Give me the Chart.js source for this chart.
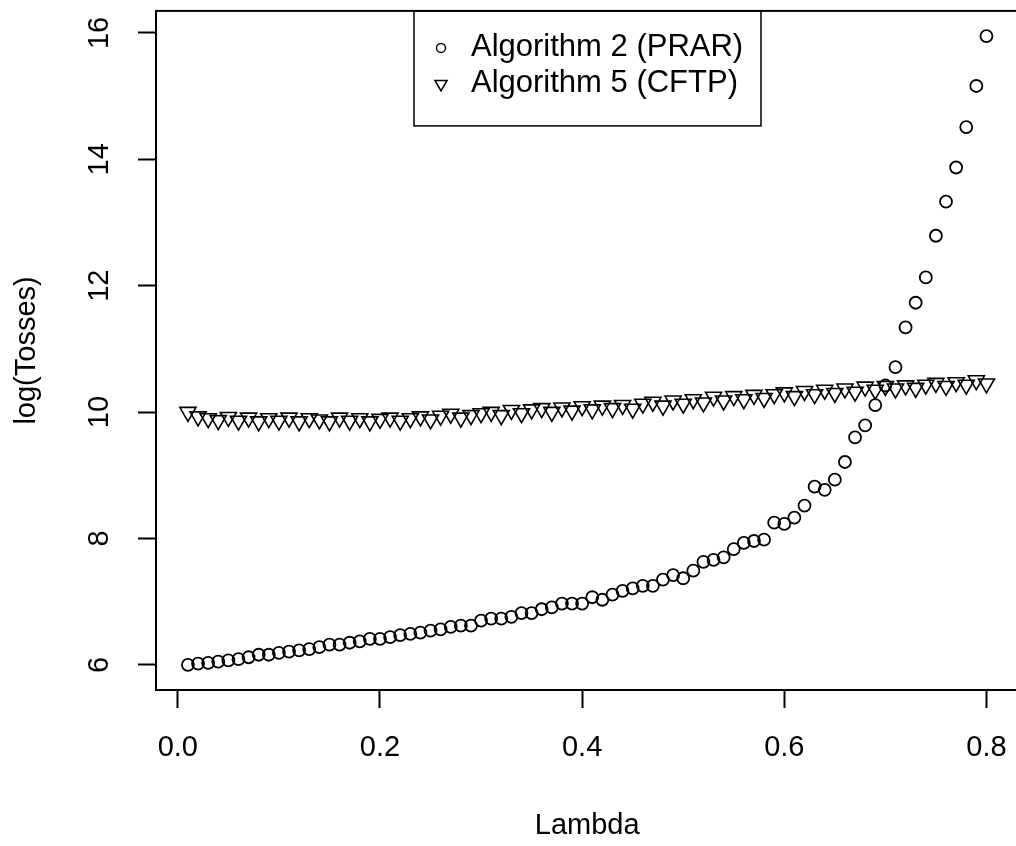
<!DOCTYPE html>
<html>
<head>
<meta charset="utf-8">
<script src="https://cdn.jsdelivr.net/npm/chart.js@4.4.1/dist/chart.umd.min.js"></script>
<style>
html,body{margin:0;padding:0;background:#fff;overflow:hidden}
#wrap{width:1030px;height:846px}
</style>
</head>
<body>
<div id="wrap"><canvas id="c" width="1030" height="846"></canvas></div>
<script>
// lambda values (x)
const lambdas=[0.01,0.02,0.03,0.04,0.05,0.06,0.07,0.08,0.09,0.10,
0.11,0.12,0.13,0.14,0.15,0.16,0.17,0.18,0.19,0.20,
0.21,0.22,0.23,0.24,0.25,0.26,0.27,0.28,0.29,0.30,
0.31,0.32,0.33,0.34,0.35,0.36,0.37,0.38,0.39,0.40,
0.41,0.42,0.43,0.44,0.45,0.46,0.47,0.48,0.49,0.50,
0.51,0.52,0.53,0.54,0.55,0.56,0.57,0.58,0.59,0.60,
0.61,0.62,0.63,0.64,0.65,0.66,0.67,0.68,0.69,0.70,
0.71,0.72,0.73,0.74,0.75,0.76,0.77,0.78,0.79,0.80];

// Algorithm 2 (PRAR), log(tosses)
const prar=[6.00,6.02,6.03,6.05,6.07,6.09,6.12,6.16,6.16,6.19,
6.21,6.23,6.25,6.28,6.32,6.32,6.35,6.37,6.41,6.41,
6.44,6.47,6.49,6.51,6.54,6.56,6.60,6.62,6.62,6.70,
6.73,6.73,6.76,6.82,6.82,6.88,6.91,6.97,6.97,6.97,
7.07,7.03,7.11,7.17,7.21,7.25,7.25,7.35,7.42,7.37,
7.49,7.63,7.66,7.70,7.83,7.93,7.96,7.98,8.25,8.23,
8.33,8.52,8.82,8.77,8.93,9.21,9.60,9.79,10.11,10.42,
10.71,11.34,11.73,12.13,12.79,13.33,13.87,14.51,15.16,15.95];

// Algorithm 5 (CFTP), log(tosses)
const cftp=[10.00,9.93,9.90,9.87,9.92,9.86,9.91,9.85,9.90,9.86,
9.91,9.85,9.90,9.88,9.85,9.91,9.86,9.90,9.85,9.89,
9.91,9.86,9.90,9.93,9.88,9.94,9.97,9.91,9.95,9.98,
10.00,9.95,10.03,9.98,10.04,10.06,10.00,10.07,10.02,10.09,
10.04,10.10,10.06,10.11,10.05,10.13,10.16,10.10,10.18,10.13,
10.20,10.15,10.24,10.18,10.25,10.20,10.27,10.22,10.28,10.31,
10.25,10.33,10.28,10.35,10.30,10.37,10.32,10.40,10.35,10.41,
10.37,10.42,10.38,10.43,10.46,10.41,10.47,10.43,10.50,10.45];

const xTicks=[0,0.2,0.4,0.6,0.8];
const yTicks=[6,8,10,12,14,16];
const seriesNames=['Algorithm 2 (PRAR)','Algorithm 5 (CFTP)'];

const FONT='"Liberation Sans", Arial, sans-serif';
const FS=29;   // axis text
const LFS=31;  // legend text

const pts=(ys)=>lambdas.map((x,i)=>({x:x,y:ys[i]}));

// box around plot, rotated y tick labels, legend
const rPlot={
  id:'rPlot',
  afterDraw(chart){
    const ctx=chart.ctx, a=chart.chartArea, ys=chart.scales.y;
    ctx.save();
    ctx.strokeStyle='#000';
    ctx.lineWidth=2;
    ctx.strokeRect(a.left,a.top,a.right-a.left,a.bottom-a.top);

    ctx.fillStyle='#000';
    ctx.font=FS+'px '+FONT;
    ctx.textAlign='center';
    ctx.textBaseline='middle';
    yTicks.forEach(v=>{
      const py=ys.getPixelForValue(v);
      ctx.save();
      ctx.translate(100,py);
      ctx.rotate(-Math.PI/2);
      ctx.fillText(String(v),0,0);
      ctx.restore();
    });

    // legend, top centre of the plot
    const w=347,h=115;
    const lx=Math.round((a.left+a.right)/2-w/2), ly=a.top;
    ctx.lineWidth=1.5;
    ctx.strokeRect(lx,ly,w,h);
    ctx.textAlign='left';
    ctx.font=LFS+'px '+FONT;
    const rows=[ly+37,ly+73];
    ctx.beginPath();
    ctx.arc(lx+27,rows[0],4.5,0,Math.PI*2);
    ctx.stroke();
    const r=7;
    ctx.beginPath();
    ctx.moveTo(lx+27,rows[1]+r);
    ctx.lineTo(lx+27+r*0.866,rows[1]-r/2);
    ctx.lineTo(lx+27-r*0.866,rows[1]-r/2);
    ctx.closePath();
    ctx.stroke();
    ctx.fillText(seriesNames[0],lx+57,rows[0]);
    ctx.fillText(seriesNames[1],lx+57,rows[1]);
    ctx.restore();
  }
};

new Chart(document.getElementById('c'),{
  type:'scatter',
  data:{
    datasets:[
      {label:seriesNames[0],data:pts(prar),pointStyle:'circle',pointRadius:6,pointBorderWidth:1.8,
       borderColor:'#000',backgroundColor:'rgba(0,0,0,0)',pointBackgroundColor:'rgba(0,0,0,0)'},
      {label:seriesNames[1],data:pts(cftp),pointStyle:'triangle',rotation:180,pointRadius:9.3,pointBorderWidth:1.6,
       borderColor:'#000',backgroundColor:'rgba(0,0,0,0)',pointBackgroundColor:'rgba(0,0,0,0)'}
    ]
  },
  options:{
    responsive:false,
    animation:false,
    devicePixelRatio:1,
    layout:{padding:{left:0,top:10,right:9,bottom:0}},
    plugins:{legend:{display:false},tooltip:{enabled:false}},
    scales:{
      x:{
        type:'linear',min:-0.0216,max:0.8316,
        afterBuildTicks:s=>{s.ticks=xTicks.map(v=>({value:v}));},
        afterFit:s=>{s.height=156;},
        grid:{drawOnChartArea:false,drawTicks:true,tickLength:18,tickWidth:2,tickColor:'#000'},
        border:{display:true,color:'#000',width:2},
        ticks:{color:'#000',font:{family:FONT,size:FS},padding:23,maxRotation:0,autoSkip:false,
          callback:v=>v.toFixed(1)},
        title:{display:true,text:'Lambda',color:'#000',font:{family:FONT,size:FS},padding:{top:0,bottom:3}}
      },
      y:{
        type:'linear',min:5.602,max:16.348,
        afterBuildTicks:s=>{s.ticks=yTicks.map(v=>({value:v}));},
        afterFit:s=>{s.width=156;},
        grid:{drawOnChartArea:false,drawTicks:true,tickLength:18,tickWidth:2,tickColor:'#000'},
        border:{display:true,color:'#000',width:2},
        ticks:{display:false},
        title:{display:true,text:'log(Tosses)',color:'#000',font:{family:FONT,size:FS},padding:{top:10,bottom:0}}
      }
    }
  },
  plugins:[rPlot]
});
</script>
</body>
</html>
